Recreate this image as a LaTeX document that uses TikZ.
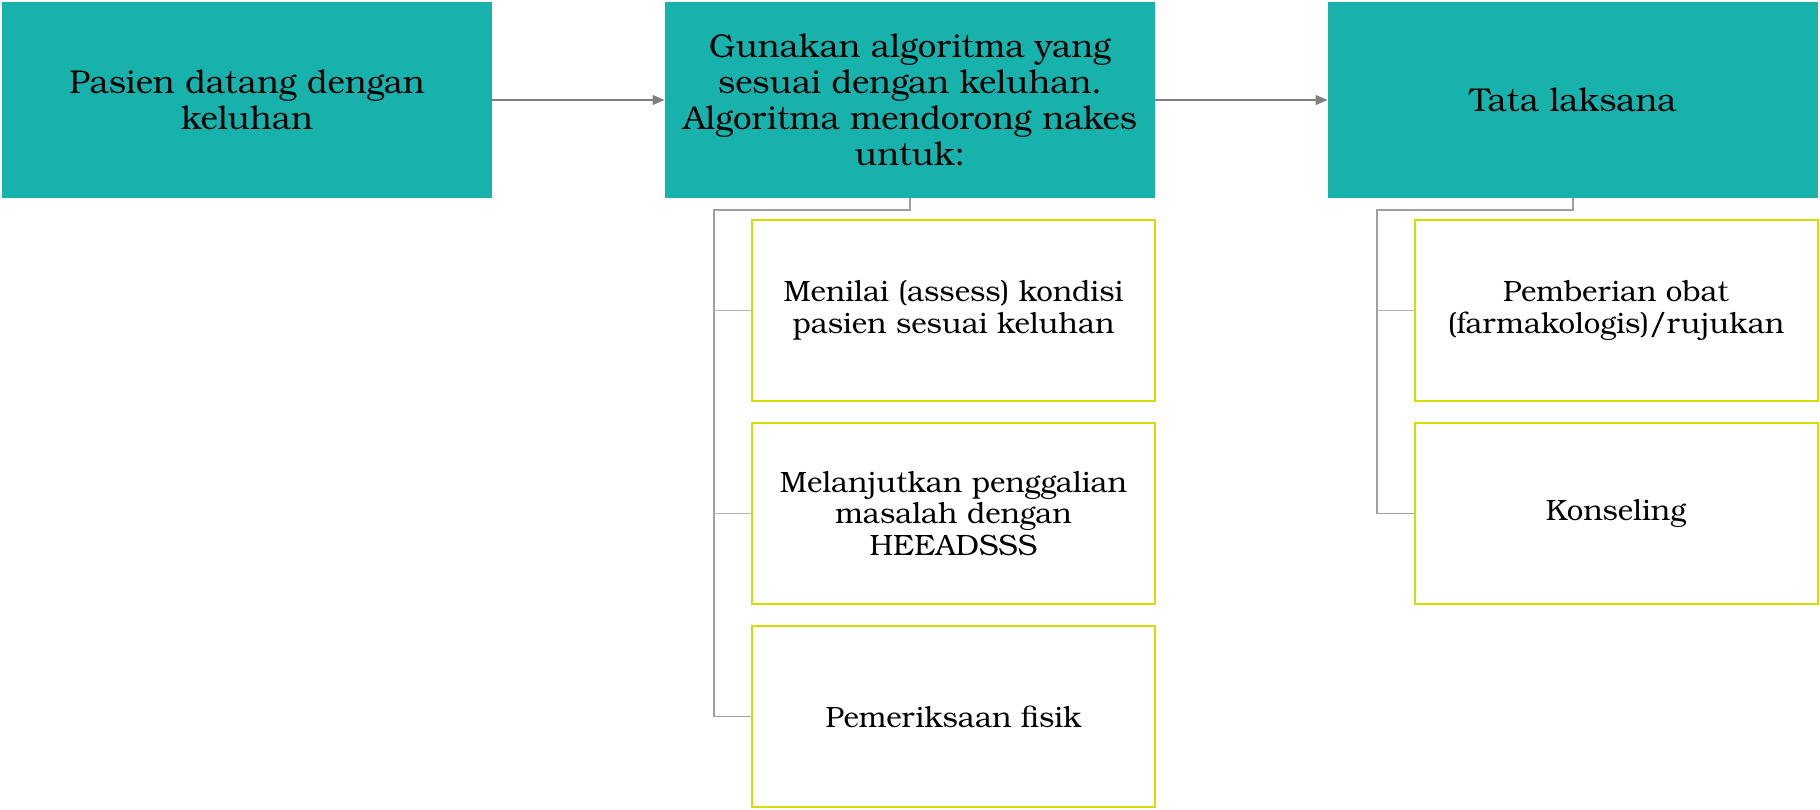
\documentclass[tikz,border=0pt]{standalone}
\usepackage{fontspec}
\setmainfont{TeX Gyre Bonum}
\usetikzlibrary{arrows.meta}

\definecolor{boxteal}{RGB}{23,178,172}
\definecolor{boxyellow}{RGB}{212,221,0}
\definecolor{arrowgray}{RGB}{128,128,128}
\definecolor{bargray}{RGB}{160,160,160}
\definecolor{branchgray}{RGB}{180,180,180}

\begin{document}
\begin{tikzpicture}[x=0.5pt,y=-0.5pt,
    headbox/.style={fill=boxteal, minimum width=245pt, minimum height=98pt,
        inner sep=0pt, align=center, font=\fontsize{16.5}{17.9}\selectfont},
    itembox/.style={draw=boxyellow, line width=1pt, minimum width=201.5pt,
        minimum height=90.5pt, inner sep=0pt, align=center,
        font=\fontsize{14.7}{15.8}\selectfont},
    flowarrow/.style={draw=arrowgray, line width=0.6pt,
        -{Triangle[length=6pt,width=5pt]}},
    bracket/.style={draw=bargray, line width=0.75pt},
    branch/.style={draw=branchgray, line width=0.75pt}]
        % Fix the page size
        \useasboundingbox (0,0) rectangle (1820,809);

        % Main steps
        \node[headbox] (pasien) at (247,100) {Pasien datang dengan\\keluhan};
        \node[headbox] (algo) at (910,100) {Gunakan algoritma yang\\sesuai dengan keluhan.\\Algoritma mendorong nakes\\untuk:};
        \node[headbox] (tata) at (1573,100) {Tata laksana};

        % Items under the algorithm
        \node[itembox] (menilai) at (953.5,310.5) {Menilai (assess) kondisi\\pasien sesuai keluhan};
        \node[itembox] (gali) at (953.5,513.5) {Melanjutkan penggalian\\masalah dengan\\HEEADSSS};
        \node[itembox] (fisik) at (953.5,716.5) {Pemeriksaan fisik};

        % Items under tata laksana
        \node[itembox] (obat) at (1616,310.5) {Pemberian obat\\(farmakologis)/rujukan};
        \node[itembox] (konseling) at (1616,513.5) {Konseling};

        % Joints of the brackets
        \coordinate (algojoint) at (714,210);
        \coordinate (tatajoint) at (1377,210);

        % Arrows between the main steps
        \draw[flowarrow] (pasien) -- (algo);
        \draw[flowarrow] (algo) -- (tata);

        % Brackets
        \draw[bracket] (algo.south) |- (algojoint) |- (fisik.west);
        \draw[branch] (algojoint |- menilai.west) -- (menilai.west);
        \draw[branch] (algojoint |- gali.west) -- (gali.west);
        \draw[bracket] (tata.south) |- (tatajoint) |- (konseling.west);
        \draw[branch] (tatajoint |- obat.west) -- (obat.west);
    \end{tikzpicture}
\end{document}
